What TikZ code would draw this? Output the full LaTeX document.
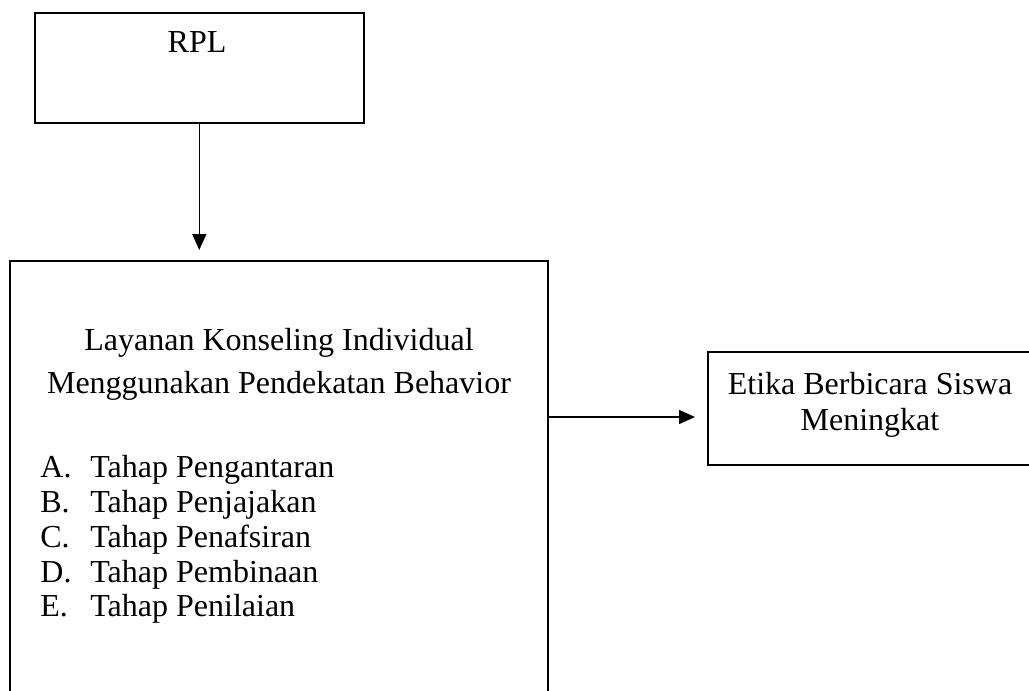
\documentclass[tikz,border=0pt]{standalone}
\usepackage{fontspec}
\setmainfont{Liberation Serif}
\usetikzlibrary{arrows.meta}

\tikzset{
  kotak/.style={draw, line width=0.8pt, inner sep=0pt},
  teks/.style={inner sep=0pt, font=\fontsize{16}{19}\selectfont},
  panah/.style={-{Triangle[length=8pt,width=7pt]}, line width=0.8pt}
}

\begin{document}
\begin{tikzpicture}[x=0.5pt, y=-0.5pt]
\useasboundingbox (0,0) rectangle (1029,691);

\node[kotak, minimum width=164.5pt, minimum height=55pt, anchor=north west] (rpl) at (34, 12) {};
\node[kotak, minimum width=269pt, minimum height=240pt, anchor=north west] (layanan) at (9, 260) {};
\node[kotak, minimum width=180pt, minimum height=56.5pt, anchor=north west] (etika) at (707, 351) {};

\draw[panah, shorten >=5pt] (rpl.south) -- (rpl.south |- layanan.north);

\coordinate (p) at (0, 417);
\draw[panah, shorten >=6pt] (layanan.east |- p) -- (etika.west |- p);

\node[teks, anchor=base] (judul) at (197, 52) {RPL};

\node[teks, anchor=base] (layanan1) at (279, 350) {Layanan Konseling Individual};
\node[teks, anchor=base] (layanan2) at (279, 393) {Menggunakan Pendekatan Behavior};

\node[teks, anchor=base west] (hurufA) at (40, 477) {A.};
\node[teks, anchor=base west] (hurufB) at (40, 512) {B.};
\node[teks, anchor=base west] (hurufC) at (40, 547) {C.};
\node[teks, anchor=base west] (hurufD) at (40, 582) {D.};
\node[teks, anchor=base west] (hurufE) at (40, 616) {E.};

\node[teks, anchor=base west] (tahapA) at (90, 477) {Tahap Pengantaran};
\node[teks, anchor=base west] (tahapB) at (90, 512) {Tahap Penjajakan};
\node[teks, anchor=base west] (tahapC) at (90, 547) {Tahap Penafsiran};
\node[teks, anchor=base west] (tahapD) at (90, 582) {Tahap Pembinaan};
\node[teks, anchor=base west] (tahapE) at (90, 616) {Tahap Penilaian};

\node[teks, anchor=base] (etika1) at (870, 394) {Etika Berbicara Siswa};
\node[teks, anchor=base] (etika2) at (870, 430) {Meningkat};

\end{tikzpicture}
\end{document}
